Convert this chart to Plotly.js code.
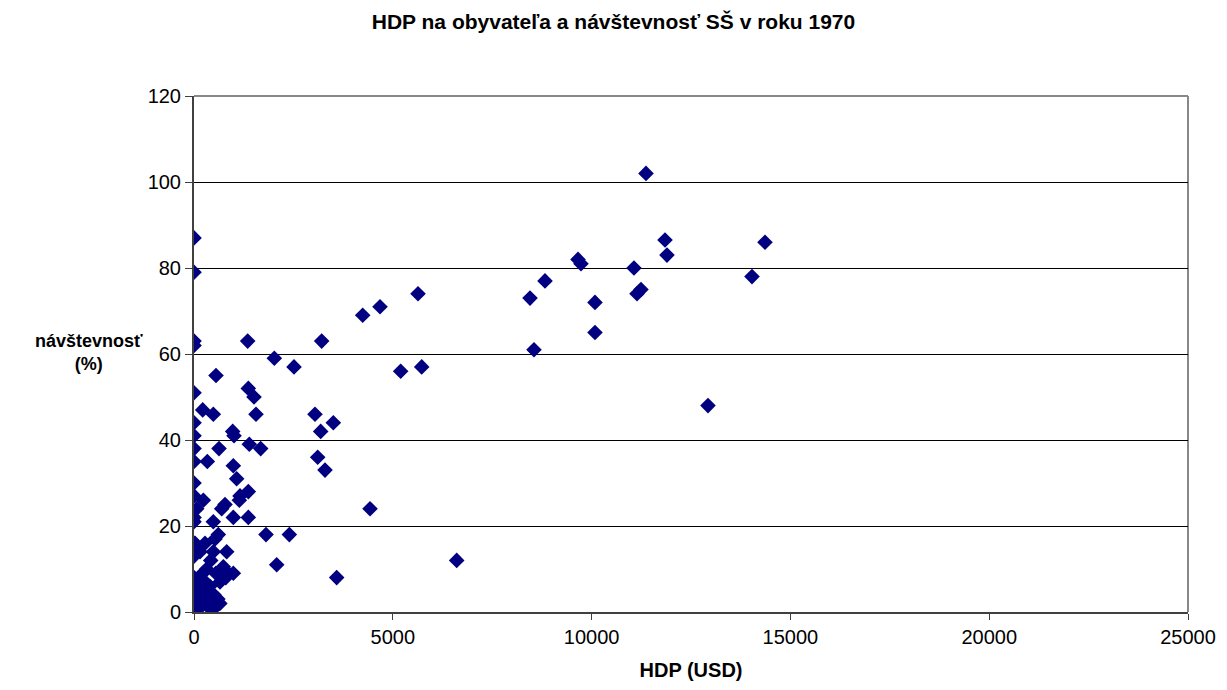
<!DOCTYPE html>
<html>
<head>
<meta charset="utf-8">
<script src="https://cdn.plot.ly/plotly-3.0.1.min.js"></script>
<style>html,body{margin:0;padding:0;background:#fff;}#chart{width:1227px;height:690px;}</style>
</head>
<body>
<div id="chart"></div>
<script>
const hdp = [
  0, 0, 0, 0, 0, 0, 0, 0, 0, 0, 0, 0, 0, 0, 0,
  11368, 9658, 9733, 11846, 11896, 14361, 14034, 11066, 11142, 11242, 10085, 10085,
  8828, 8451, 8551, 12927, 5634, 4678, 4243, 5727, 5198, 3211, 3043, 3186, 3504,
  3111, 3295, 4427, 3588, 6607, 2515, 2020, 1350, 1366, 1509, 1559, 1391, 1677,
  1811, 2398, 2080, 973, 1006, 989, 1073, 1366, 1366, 1157, 1140, 553, 486, 219,
  335, 629, 235, 68, 486, 989, 780, 696, 612, 528, 25, 277, 151, 486, 822,
  738, 989, 654, 486,
  0, 0, 0, 0, 0, 0, 0, 0, 50, 80, 100, 120, 150, 180, 200, 220, 250, 280, 300,
  320, 350, 380, 400, 420, 450, 500, 520, 550, 600, 650, 700, 750, 800, 850
];
const navstevnost = [
  87, 79, 63, 62, 51, 44, 41, 38, 35, 30, 27, 22, 21, 16, 13,
  102, 82, 81, 86.5, 83, 86, 78, 80, 74, 75, 72, 65,
  77, 73, 61, 48, 74, 71, 69, 57, 56, 63, 46, 42, 44,
  36, 33, 24, 8, 12, 57, 59, 63, 52, 50, 46, 39, 38,
  18, 18, 11, 42, 41, 34, 31, 22, 28, 27, 26, 55, 46, 47,
  35, 38, 26, 24, 21, 22, 25, 24, 18, 17, 16, 16, 14, 14, 14,
  10.5, 9, 7, 2,
  1, 2, 3, 4, 5, 6, 7, 8, 2, 5, 3, 8, 1, 6, 4, 9, 2, 7, 3,
  10, 5, 1, 6, 12, 2, 4, 1, 9, 3, 2, 8, 10, 8, 9
];
const xTicks = [0, 5000, 10000, 15000, 20000, 25000];
const yTicks = [0, 20, 40, 60, 80, 100, 120];

const font = 'Liberation Sans, Arial, sans-serif';
const data = [{
  type: 'scatter', mode: 'markers', x: hdp, y: navstevnost,
  marker: {symbol: 'diamond', color: '#000080', size: 12, line: {width: 0}},
  hoverinfo: 'x+y'
}];
const layout = {
  width: 1227, height: 690,
  margin: {l: 194, r: 39, t: 96, b: 78},
  paper_bgcolor: '#fff', plot_bgcolor: '#fff',
  font: {family: font, size: 20, color: '#000'},
  showlegend: false,
  title: {text: '<b>HDP na obyvateľa a návštevnosť SŠ v roku 1970</b>', font: {family: font, size: 21, color: '#000'}, x: 0.5, xanchor: 'center', y: 0.968, yanchor: 'middle'},
  xaxis: {
    range: [0, 25000], tickvals: xTicks, ticktext: xTicks.map(String),
    showgrid: false, zeroline: false, showline: true, linecolor: '#404040', linewidth: 2,
    ticks: 'outside', ticklen: 6, tickcolor: '#404040', tickfont: {size: 20},
    title: {text: '<b>HDP (USD)</b>', font: {size: 20}, standoff: 16}
  },
  yaxis: {
    range: [0, 120], tickvals: yTicks, ticktext: yTicks.map(String),
    showgrid: true, gridcolor: '#000', gridwidth: 1, zeroline: false,
    showline: true, linecolor: '#404040', linewidth: 2,
    ticks: 'outside', ticklen: 7, tickcolor: '#404040', tickfont: {size: 20}
  },
  shapes: [
    {type: 'line', xref: 'paper', yref: 'paper', x0: 0, x1: 1, y0: 1, y1: 1, line: {color: '#888', width: 2}, layer: 'below'},
    {type: 'line', xref: 'paper', yref: 'paper', x0: 1, x1: 1, y0: 0, y1: 1, line: {color: '#888', width: 2}, layer: 'below'}
  ],
  annotations: [{
    text: '<b>návštevnosť<br>(%)</b>', xref: 'paper', yref: 'paper',
    x: -0.106, y: 0.502, xanchor: 'center', yanchor: 'middle', showarrow: false,
    font: {size: 18}, align: 'center'
  }]
};
Plotly.newPlot('chart', data, layout, {displayModeBar: false, staticPlot: true});
</script>
</body>
</html>
